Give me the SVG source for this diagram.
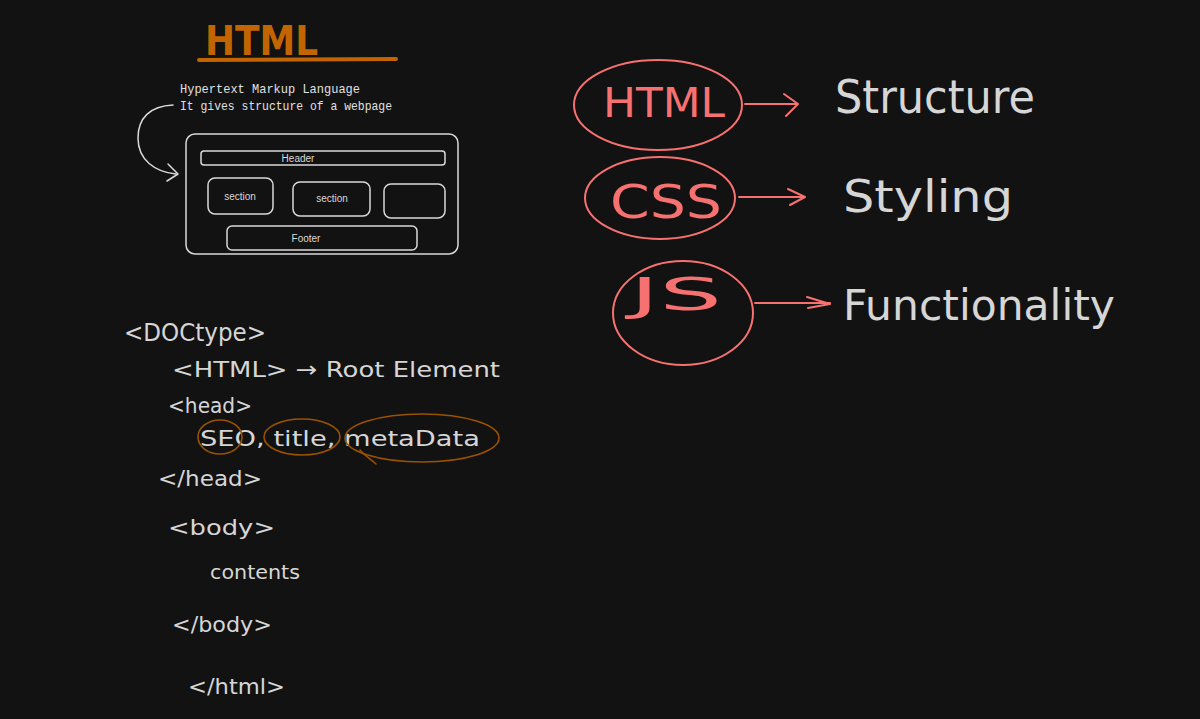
<svg xmlns="http://www.w3.org/2000/svg" width="1200" height="719" viewBox="0 0 1200 719">
<defs>
<style>
.bg{fill:#121212}
.w{fill:none;stroke:#d9d9d9;stroke-width:1.5;stroke-linecap:round;stroke-linejoin:round}
.r{fill:none;stroke:#f87171;stroke-width:2;stroke-linecap:round;stroke-linejoin:round}
.o{fill:none;stroke:#9a5200;stroke-width:1.6;stroke-linecap:round}
.hw{font-family:"DejaVu Sans",sans-serif;fill:#d6d6d6;font-weight:normal}
.small{font-size:13px;font-family:"Liberation Mono","DejaVu Sans Mono",monospace;fill:#e0e0e0}
.lbl{font-size:10px;font-family:"Liberation Sans",Arial,sans-serif;fill:#d9d9d9;text-anchor:middle}
.red{font-family:"DejaVu Sans",sans-serif;fill:#f87171;font-weight:normal}
</style>
</defs>
<rect class="bg" x="0" y="0" width="1200" height="719"/>

<g id="title">
<text x="205" y="55" font-family="DejaVu Sans, sans-serif" font-size="40" font-weight="bold" fill="#c26400" textLength="113" lengthAdjust="spacingAndGlyphs">HTML</text>
<path d="M199 60 L396 59" stroke="#c26400" stroke-width="4" stroke-linecap="round" fill="none"/>
</g>

<g id="description">
<text class="small" x="180" y="93" textLength="180" lengthAdjust="spacingAndGlyphs">Hypertext Markup Language</text>
<text class="small" x="180" y="110" textLength="212" lengthAdjust="spacingAndGlyphs">It gives structure of a webpage</text>
</g>

<g id="connectors">
<path class="w" stroke-width="2.5" d="M173 105 C150 106 138 118 138 138 C138 160 155 172 176 174"/>
<path class="w" stroke-width="2.5" d="M168 164 L178 174 L167 181"/>
<path class="r" d="M745 104 L797 104 M784 94 L798 104 L786 116"/>
<path class="r" d="M739 197 L804 197 M788 189 L805 197 L790 205"/>
<path class="r" d="M755 303 L830 303 M807 297 L830 304 L808 308"/>
</g>

<g id="wireframe">
<rect class="w" x="186" y="134" width="272" height="120" rx="9"/>
<g id="header"><rect class="w" x="201" y="151" width="244" height="14" rx="3"/><text class="lbl" x="298" y="162">Header</text></g>
<g id="section1"><rect class="w" x="208" y="178" width="65" height="36" rx="7"/><text class="lbl" x="240" y="200">section</text></g>
<g id="section2"><rect class="w" x="293" y="182" width="77" height="34" rx="7"/><text class="lbl" x="332" y="202">section</text></g>
<g id="box3"><rect class="w" x="384" y="184" width="61" height="34" rx="7"/></g>
<g id="footer"><rect class="w" x="227" y="226" width="190" height="24" rx="5"/><text class="lbl" x="306" y="242">Footer</text></g>
</g>

<g id="code">
<text class="hw" x="124" y="341" font-size="24" textLength="142" lengthAdjust="spacingAndGlyphs">&lt;DOCtype&gt;</text>
<text class="hw" x="172" y="377" font-size="22" textLength="328" lengthAdjust="spacingAndGlyphs">&lt;HTML&gt; → Root Element</text>
<text class="hw" x="168" y="413" font-size="22" textLength="84" lengthAdjust="spacingAndGlyphs">&lt;head&gt;</text>
<text class="hw" x="200" y="446" font-size="21" textLength="280" lengthAdjust="spacingAndGlyphs">SEO, title, metaData</text>
<text class="hw" x="158" y="486" font-size="22" textLength="104" lengthAdjust="spacingAndGlyphs">&lt;/head&gt;</text>
<text class="hw" x="168" y="535" font-size="22" textLength="107" lengthAdjust="spacingAndGlyphs">&lt;body&gt;</text>
<text class="hw" x="210" y="579" font-size="20" textLength="90" lengthAdjust="spacingAndGlyphs">contents</text>
<text class="hw" x="172" y="632" font-size="22" textLength="100" lengthAdjust="spacingAndGlyphs">&lt;/body&gt;</text>
<text class="hw" x="188" y="694" font-size="22" textLength="97" lengthAdjust="spacingAndGlyphs">&lt;/html&gt;</text>
</g>

<g id="highlights">
<ellipse class="o" cx="220" cy="437" rx="22" ry="17"/>
<ellipse class="o" cx="302" cy="437" rx="38" ry="18"/>
<ellipse class="o" cx="422" cy="438" rx="77" ry="24"/>
<path class="o" d="M360 450 C365 456 372 460 376 464"/>
</g>

<g id="node-html">
<ellipse class="r" cx="658" cy="105" rx="84" ry="45"/>
<text class="red" x="603" y="117" font-size="40" textLength="122" lengthAdjust="spacingAndGlyphs">HTML</text>
</g>
<g id="label-structure">
<text class="hw" x="835" y="113" font-size="46" textLength="200" lengthAdjust="spacingAndGlyphs">Structure</text>
</g>

<g id="node-css">
<ellipse class="r" cx="660" cy="198" rx="75" ry="41"/>
<text class="red" x="610" y="218" font-size="46" textLength="112" lengthAdjust="spacingAndGlyphs">CSS</text>
</g>
<g id="label-styling">
<text class="hw" x="843" y="212" font-size="44" textLength="170" lengthAdjust="spacingAndGlyphs">Styling</text>
</g>

<g id="node-js">
<ellipse class="r" cx="683" cy="313" rx="70" ry="52"/>
<text class="red" x="630" y="310" font-size="44" textLength="92" lengthAdjust="spacingAndGlyphs">JS</text>
</g>
<g id="label-functionality">
<text class="hw" x="843" y="320" font-size="42" textLength="272" lengthAdjust="spacingAndGlyphs">Functionality</text>
</g>
</svg>
